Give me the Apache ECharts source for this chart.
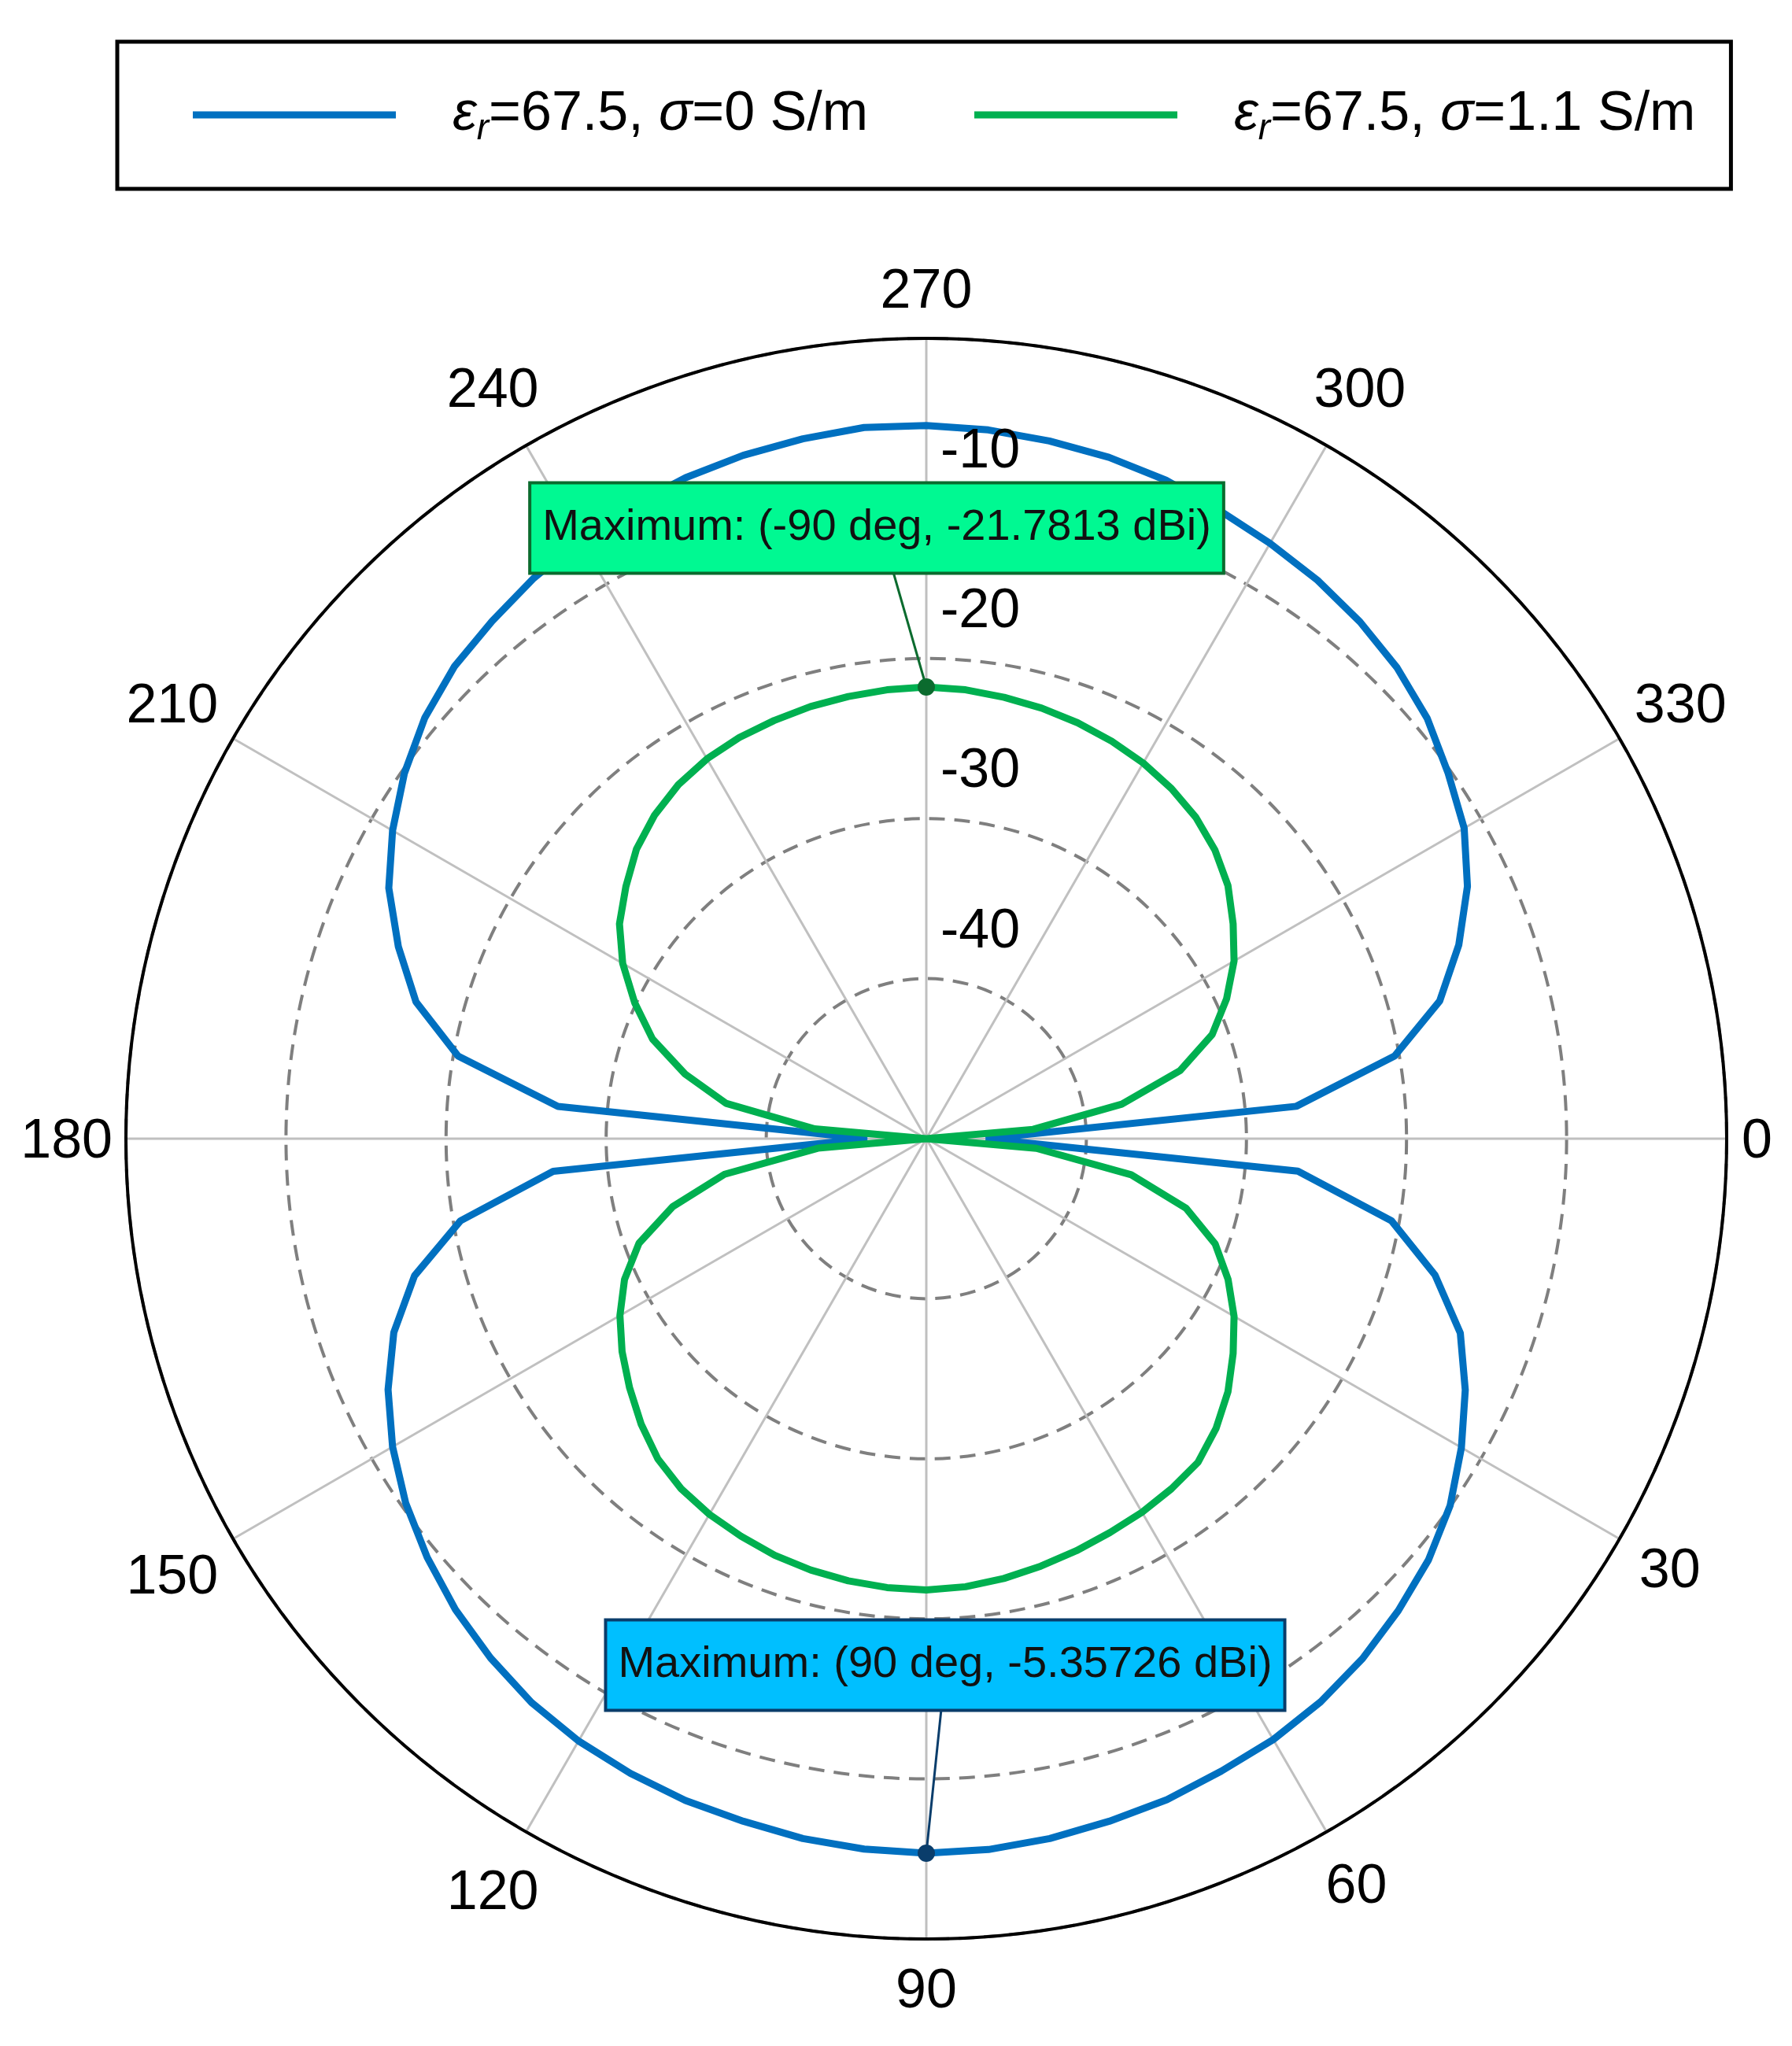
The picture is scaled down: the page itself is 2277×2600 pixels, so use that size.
<!DOCTYPE html>
<html>
<head>
<meta charset="utf-8">
<title>Radiation pattern</title>
<script src="https://cdn.jsdelivr.net/npm/echarts@6/dist/echarts.min.js"></script>
<style>
    html, body { margin: 0; padding: 0; background: #fff; }
    #chart { width: 2277px; height: 2600px; }
</style>
</head>
<body>
<div id="chart"></div>
<script>
// 角度 (deg)，0 在右侧，顺时针
const angles = [
    0, 5, 10, 15, 20, 25, 30, 35, 40, 45, 50, 55, 60, 65, 70, 75, 80, 85,
    90, 95, 100, 105, 110, 115, 120, 125, 130, 135, 140, 145, 150, 155, 160, 165, 170, 175,
    180, 185, 190, 195, 200, 205, 210, 215, 220, 225, 230, 235, 240, 245, 250, 255, 260, 265,
    270, 275, 280, 285, 290, 295, 300, 305, 310, 315, 320, 325, 330, 335, 340, 345, 350, 355
]
// 增益 (dBi)，σ=0 S/m
const gainLossless = [
    -46.3, -26.7, -20.5, -17.1, -14.5, -12.85, -11.4, -10.05, -9.05, -8.3, -7.6, -7.05, -6.65, -6.4, -6.05, -5.85, -5.6, -5.42,
    -5.36, -5.45, -5.6, -5.85, -6.0, -6.25, -6.55, -7.0, -7.65, -8.4, -9.3, -10.3, -11.5, -12.9, -14.6, -16.9, -20.45, -26.6,
    -46.3, -26.9, -20.3, -17.0, -14.9, -12.95, -11.5, -10.2, -9.1, -8.3, -7.8, -7.25, -6.8, -6.4, -6.05, -5.8, -5.6, -5.4,
    -5.45, -5.55, -5.74, -5.93, -6.22, -6.68, -7.05, -7.4, -7.85, -8.4, -9.15, -10.2, -11.2, -12.7, -14.6, -16.8, -20.3, -26.8
]
// 增益 (dBi)，σ=1.1 S/m
const gainLossy = [
    -50, -43.1, -37.0, -33.2, -30.8, -29.2, -27.8, -26.6, -25.4, -24.4, -23.6, -23.3, -23.05, -22.85, -22.6, -22.35, -22.1, -21.9,
    -21.8, -21.85, -21.95, -22.1, -22.3, -22.6, -22.9, -23.3, -23.9, -24.8, -25.8, -26.8, -27.9, -29.2, -30.9, -33.6, -37.2, -43.2,
    -50, -43.0, -37.3, -34.4, -31.8, -29.9, -28.1, -26.6, -25.5, -24.4, -23.6, -23.0, -22.6, -22.35, -22.2, -22.05, -21.95, -21.85,
    -21.78, -21.85, -22.0, -22.15, -22.35, -22.6, -22.9, -23.3, -23.8, -24.5, -25.4, -26.6, -27.8, -29.3, -31.0, -33.6, -37.6, -43.3
]
const seriesNames = ['εr=67.5, σ=0 S/m', 'εr=67.5, σ=1.1 S/m']
const angleTicks = [0, 30, 60, 90, 120, 150, 180, 210, 240, 270, 300, 330]
const radiusLabels = [-40, -30, -20, -10]
// 最大值标注
const peakAngles = [270, 90]
const peakValues = [-21.7813, -5.35726]
const peakTexts = ['Maximum: (-90 deg, -21.7813 dBi)', 'Maximum: (90 deg, -5.35726 dBi)']

const FONT = 'Liberation Sans'
const CENTER = [1177, 1447]
const RADIUS = 1017
const lineColors = ['#0070c0', '#00b050']
// 标注框样式：偏移、引线起点
const peakStyles = [
    { fill: '#00f992', border: '#0b6b2e', offset: [-63, -202], lead: [-42, -146] },
    { fill: '#00bfff', border: '#0a3d6b', offset: [24, -239], lead: [19, -183] },
]

const toPolar = (vals) => {
    const pts = angles.map((a, i) => [vals[i], a])
    pts.push([vals[0], 360]) // 闭合曲线
    return pts
}

// 角度刻度文字：让文字中心落在径向线上（echarts 默认按角对齐）
const LABEL_MARGIN = -60
const LABEL_SIZE = 70
const angleRich = {}
angleTicks.forEach((t) => {
    const ux = Math.cos(t * Math.PI / 180)
    const uy = Math.sin(t * Math.PI / 180)
    const w = String(t).length * 38.9
    const lh = LABEL_SIZE
    const d = RADIUS + 20 + Math.abs(ux) * String(t).length * 18.5 + Math.abs(uy) * 43
    const tx = d * ux
    const ty = d * uy + 5
    const ax = (RADIUS + LABEL_MARGIN) * ux
    const ay = (RADIUS + LABEL_MARGIN) * uy
    const hAlign = Math.abs(ax) / RADIUS < 0.3 ? 'center' : (ax > 0 ? 'left' : 'right')
    const vAlign = Math.abs(ay) / RADIUS < 0.3 ? 'middle' : (ay > 0 ? 'top' : 'bottom')
    let pl = 0, pr = 0, pt = 0, pb = 0
    if (hAlign === 'left') pl = tx - w / 2 - ax
    else if (hAlign === 'right') pr = ax - (tx + w / 2)
    else { pl = Math.max(0, 2 * (tx - ax)); pr = Math.max(0, 2 * (ax - tx)) }
    if (vAlign === 'top') pt = ty - lh / 2 - ay
    else if (vAlign === 'bottom') pb = ay - (ty + lh / 2)
    else { pt = Math.max(0, 2 * (ty - ay)); pb = Math.max(0, 2 * (ay - ty)) }
    angleRich['t' + t] = {
        fontSize: LABEL_SIZE,
        color: '#000',
        padding: [pt, pr, pb, pl].map((p) => Math.max(0, Math.round(p))),
    }
})

const chart = echarts.init(document.getElementById('chart'))

const option = {
    backgroundColor: '#fff',
    animation: false,
    textStyle: { fontFamily: FONT },
    legend: {
        data: seriesNames,
        left: 149,
        top: 53,
        padding: [51, 45, 52, 96],
        borderColor: '#000',
        borderWidth: 5,
        itemGap: 135,
        itemWidth: 258,
        itemHeight: 9,
        icon: 'rect',
        selectedMode: false,
        formatter: (name) => name.replace('εr', '{i|ε}{s|r}').replace('σ', '{i|σ}'),
        textStyle: {
            fontSize: 70,
            color: '#000',
            lineHeight: 84,
            padding: [0, 0, 0, 67],
            rich: {
                i: { fontSize: 70, fontStyle: 'italic', color: '#000' },
                s: { fontSize: 46, fontStyle: 'italic', color: '#000', padding: [36, 0, 0, 0] },
            },
        },
    },
    polar: [
        { center: CENTER, radius: RADIUS },
        { center: CENTER, radius: RADIUS },
    ],
    angleAxis: [
        {
            polarIndex: 0,
            type: 'value',
            min: 0,
            max: 360,
            interval: 30,
            startAngle: 0,
            clockwise: true,
            axisLine: { lineStyle: { color: '#000', width: 4 } },
            axisTick: { show: false },
            axisLabel: {
                margin: LABEL_MARGIN,
                formatter: (v) => `{t${v}|${v}}`,
                rich: angleRich,
            },
            splitLine: { lineStyle: { color: '#c0c0c0', width: 3 } },
        },
        {
            // 只用来放半径刻度文字
            polarIndex: 1,
            type: 'value',
            min: 0,
            max: 360,
            startAngle: 90,
            show: false,
        },
    ],
    radiusAxis: [
        {
            polarIndex: 0,
            type: 'value',
            min: -50,
            max: 0,
            interval: 10,
            axisLine: { show: false },
            axisTick: { show: false },
            axisLabel: { show: false },
            splitLine: { lineStyle: { color: '#7f7f7f', width: 4, type: [20, 12] } },
        },
        {
            polarIndex: 1,
            type: 'value',
            min: -50,
            max: 0,
            interval: 10,
            z: 5,
            axisLine: { show: false },
            axisTick: { show: false },
            splitLine: { show: false },
            axisLabel: {
                formatter: (v) => (radiusLabels.includes(v) ? `{r|${v}}` : ''),
                margin: -18,
                align: 'left',
                verticalAlign: 'bottom',
                rich: {
                    r: { fontSize: 70, color: '#000', padding: [0, 0, 24, 0] },
                },
            },
        },
    ],
    series: [
        ...[gainLossless, gainLossy].map((vals, i) => ({
            name: seriesNames[i],
            type: 'line',
            coordinateSystem: 'polar',
            polarIndex: 0,
            symbol: 'none',
            smooth: false,
            itemStyle: { color: lineColors[i] },
            lineStyle: { color: lineColors[i], width: 9 },
            data: toPolar(vals),
        })),
        ...peakAngles.map((a, i) => ({
            type: 'scatter',
            coordinateSystem: 'polar',
            polarIndex: 0,
            symbol: 'circle',
            symbolSize: 22,
            z: 4,
            itemStyle: { color: peakStyles[i].border, opacity: 1 },
            label: {
                show: true,
                position: 'inside',
                offset: peakStyles[i].offset,
                formatter: peakTexts[i],
                fontSize: 56,
                lineHeight: 67,
                color: '#111',
                opacity: 1,
                backgroundColor: peakStyles[i].fill,
                borderColor: peakStyles[i].border,
                borderWidth: 4,
                padding: [22, 14],
            },
            data: [[peakValues[i], a]],
        })),
    ],
}

chart.setOption(option)

// 引线：从标注框底部连到最大值点
const leaders = peakAngles.map((a, i) => {
    const pt = chart.convertToPixel({ seriesIndex: 2 + i }, [peakValues[i], a])
    const lead = peakStyles[i].lead
    return {
        type: 'line',
        z: 1,
        shape: { x1: pt[0] + lead[0], y1: pt[1] + lead[1], x2: pt[0], y2: pt[1] },
        style: { stroke: peakStyles[i].border, lineWidth: 3 },
    }
})
chart.setOption({ graphic: leaders })
</script>
</body>
</html>
